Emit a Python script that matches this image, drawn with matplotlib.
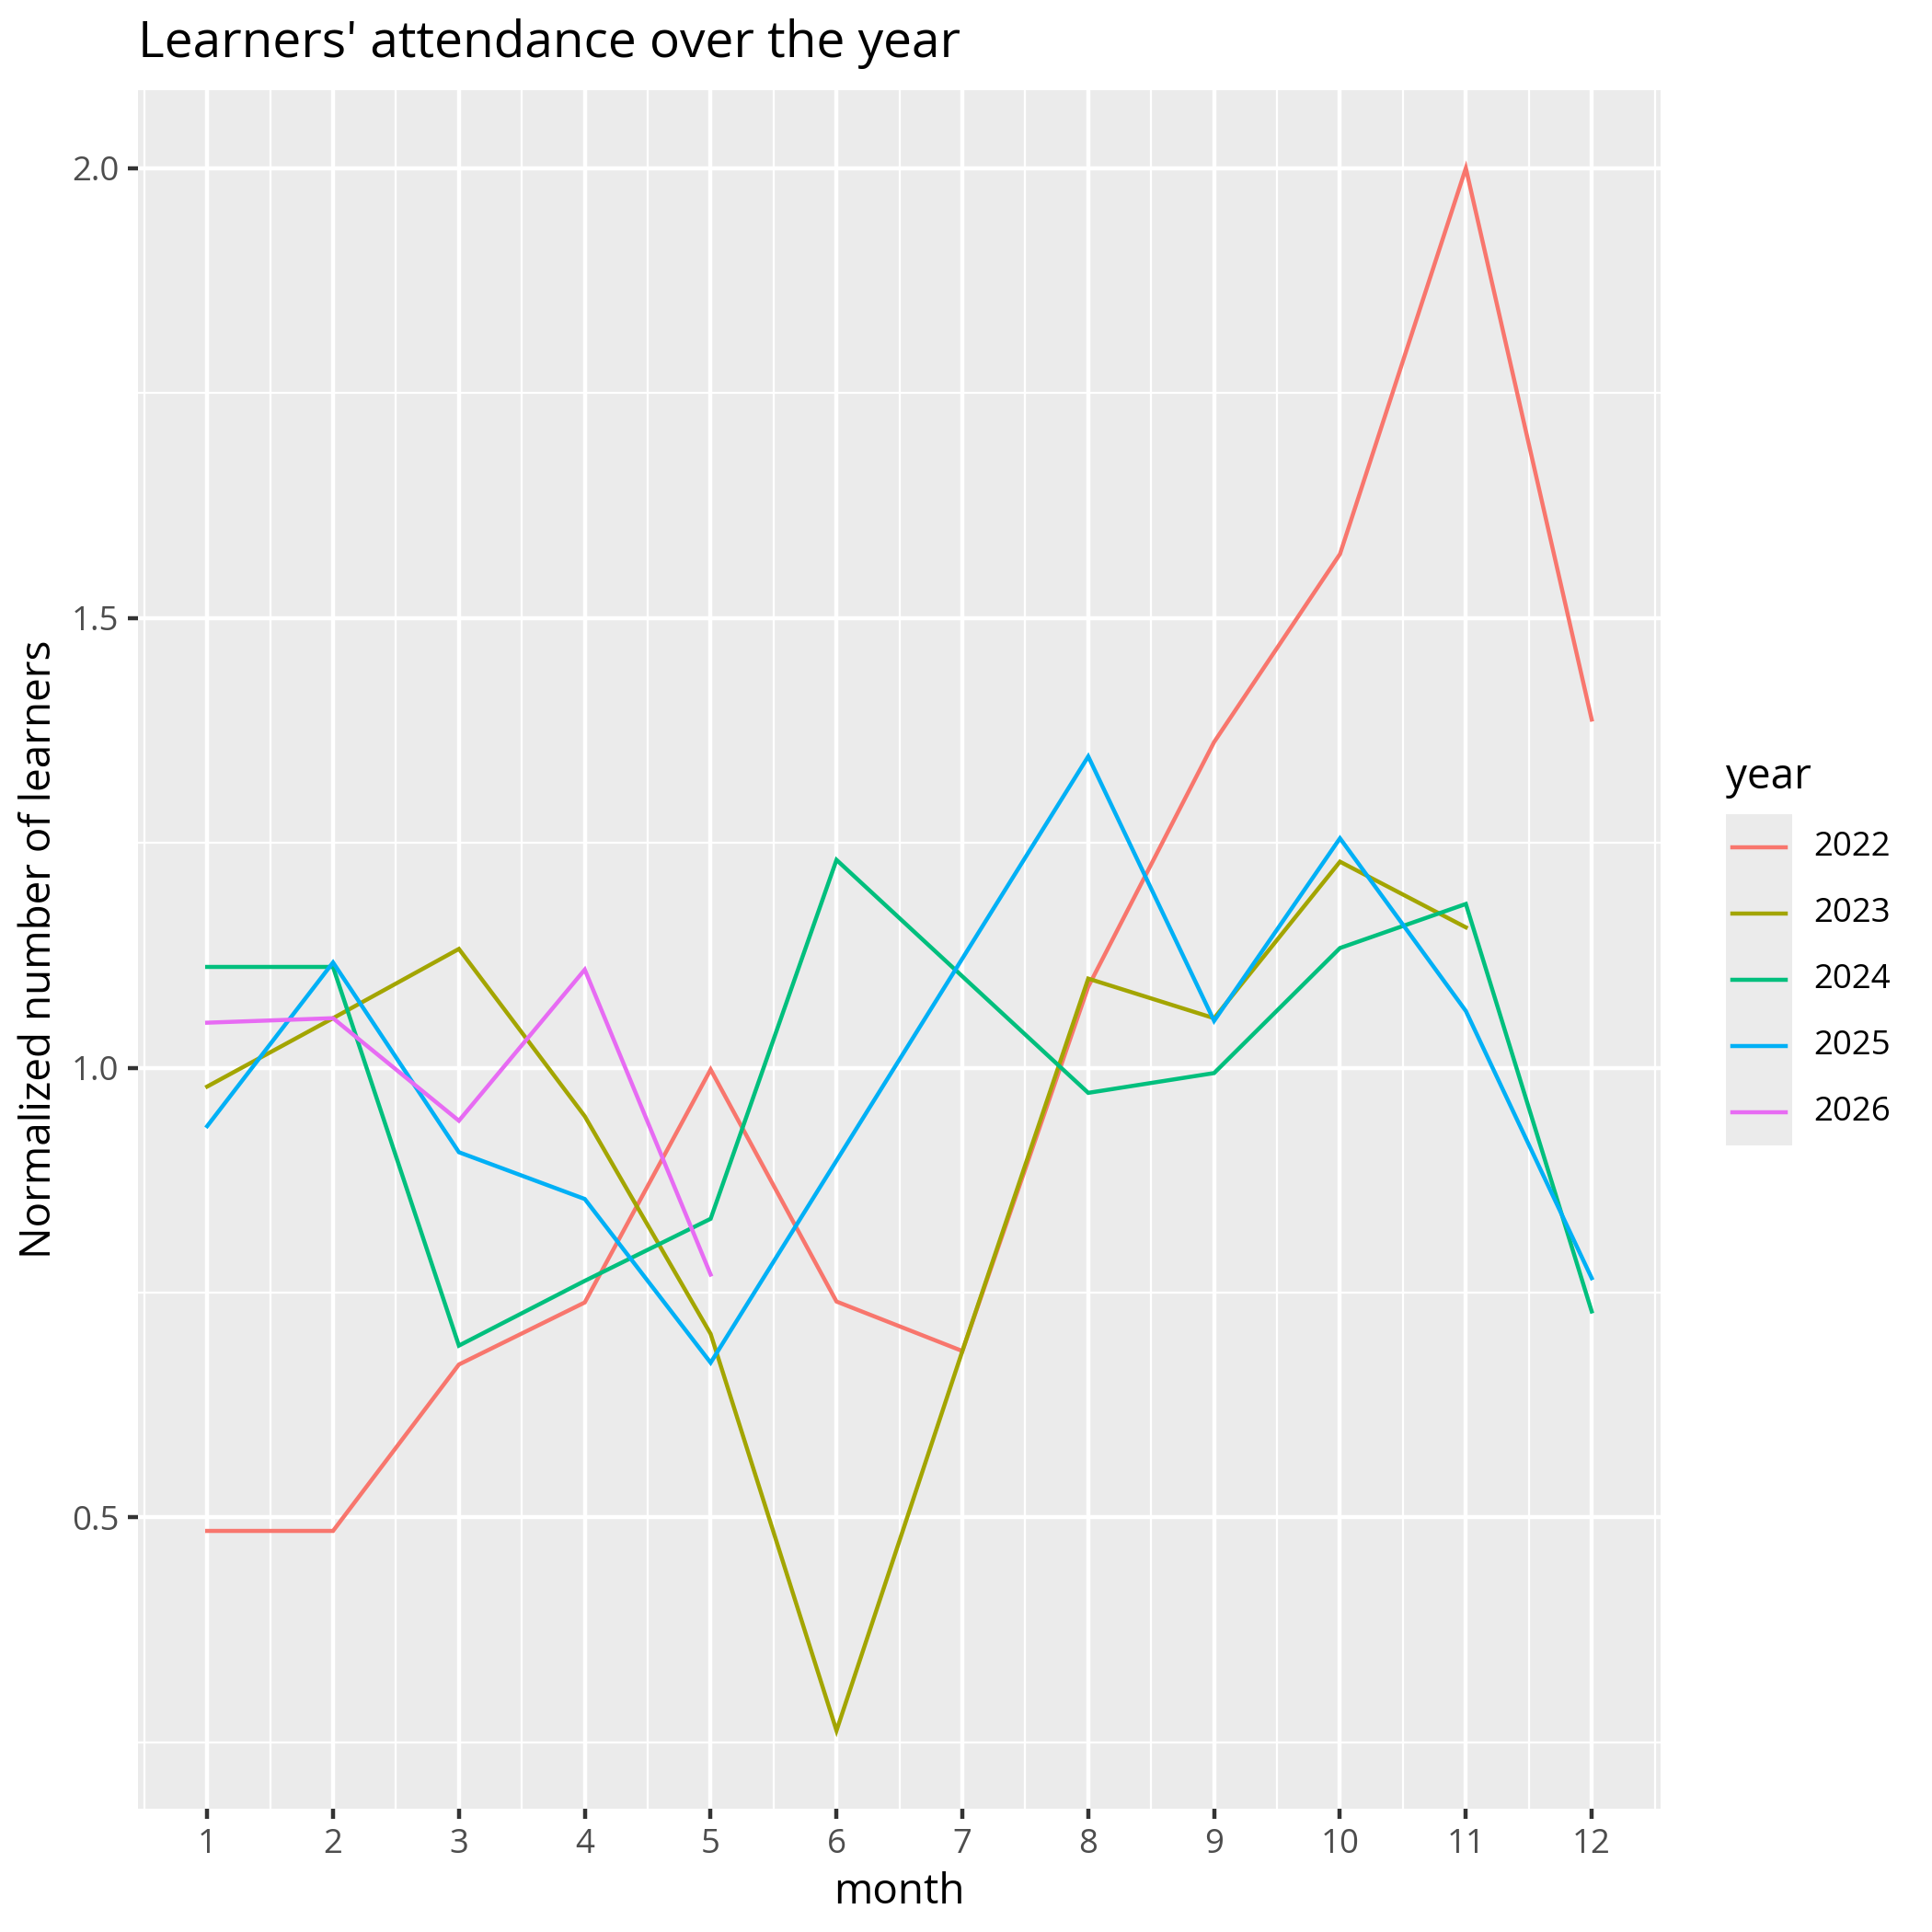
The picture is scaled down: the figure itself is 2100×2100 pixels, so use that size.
import matplotlib
matplotlib.use("Agg")
import matplotlib.pyplot as plt
import numpy as np

plt.rcParams["font.family"] = ["Open Sans", "DejaVu Sans"]

# values (months missing in a series are simply not listed)
months_2022 = [1, 2, 3, 4, 5, 6, 7, 8, 9, 10, 11, 12]
vals_2022 = [0.485, 0.485, 0.670, 0.739, 0.998, 0.740, 0.685, 1.090, 1.362, 1.571, 2.000, 1.387]
months_2023 = [1, 2, 3, 4, 5, 6, 7, 8, 9, 10, 11]
vals_2023 = [0.979, 1.055, 1.132, 0.946, 0.704, 0.263, 0.685, 1.099, 1.055, 1.229, 1.156]
months_2024 = [1, 2, 3, 4, 5, 6, 8, 9, 10, 11, 12]
vals_2024 = [1.112, 1.112, 0.691, 0.763, 0.832, 1.231, 0.972, 0.994, 1.133, 1.182, 0.729]
months_2025 = [1, 2, 3, 4, 5, 8, 9, 10, 11, 12]
vals_2025 = [0.935, 1.117, 0.906, 0.854, 0.672, 1.346, 1.052, 1.255, 1.063, 0.766]
months_2026 = [1, 2, 3, 4, 5]
vals_2026 = [1.050, 1.055, 0.941, 1.109, 0.770]

years = ["2022", "2023", "2024", "2025", "2026"]
series = [(months_2022, vals_2022), (months_2023, vals_2023), (months_2024, vals_2024),
          (months_2025, vals_2025), (months_2026, vals_2026)]
colors = ["#F8766D", "#A3A500", "#00BF7D", "#00B0F6", "#E76BF3"]

x_ticks = list(range(1, 13))
y_ticks = [0.5, 1.0, 1.5, 2.0]

lw = 1.07
fig = plt.figure(figsize=(7, 7), dpi=300)
ax = fig.add_axes([0.0714, 0.0638, 0.7883, 0.8896])
ax.set_facecolor("#EBEBEB")

for (m, v), c in zip(series, colors):
    ax.plot(m, v, color=c, lw=lw, solid_joinstyle="miter", zorder=3)

allv = np.concatenate([np.array(v) for _, v in series])
lo, hi = allv.min(), allv.max()
pad = (hi - lo) * 0.05
ax.set_ylim(lo - pad, hi + pad)
ax.set_xlim(1 - 11 * 0.05, 12 + 11 * 0.05)

ax.set_xticks(x_ticks)
ax.set_xticklabels([str(t) for t in x_ticks])
ax.set_yticks(y_ticks)
ax.set_yticklabels([f"{t:.1f}" for t in y_ticks])
ax.set_xticks(np.arange(0.5, 13, 1.0), minor=True)
ax.set_yticks([0.25, 0.75, 1.25, 1.75], minor=True)

ax.grid(which="major", color="white", lw=lw)
ax.grid(which="minor", color="white", lw=lw / 2)
ax.set_axisbelow(True)
for s in ax.spines.values():
    s.set_visible(False)
ax.tick_params(which="major", length=2.75, width=lw, color="#333333",
               labelsize=8.8, labelcolor="#4D4D4D", pad=2.2)
ax.tick_params(which="minor", length=0)

ax.set_xlabel("month", fontsize=11, labelpad=2.75)
ax.set_ylabel("Normalized number of learners", fontsize=11, labelpad=2.75)

fig.text(0.0714, 0.9705, "Learners' attendance over the year", fontsize=13.2,
         ha="left", va="baseline")

# legend built by hand, ggplot style
lax = fig.add_axes([0.8933, 0.4071, 0.0343, 0.1715])
lax.set_facecolor("#EBEBEB")
lax.set_xlim(0, 1)
lax.set_ylim(0, 1)
lax.set_xticks([])
lax.set_yticks([])
for s in lax.spines.values():
    s.set_visible(False)
n = len(years)
for i, (yr, c) in enumerate(zip(years, colors)):
    yc = 1 - (i + 0.5) / n
    lax.plot([0.1, 0.9], [yc, yc], color=c, lw=lw)
    fig.text(0.9386, 0.4071 + 0.1715 * yc, yr, fontsize=8.8, ha="left", va="center")
fig.text(0.8933, 0.5919, "year", fontsize=11, ha="left", va="baseline")

fig.savefig("out.png", dpi=300, facecolor="white")
